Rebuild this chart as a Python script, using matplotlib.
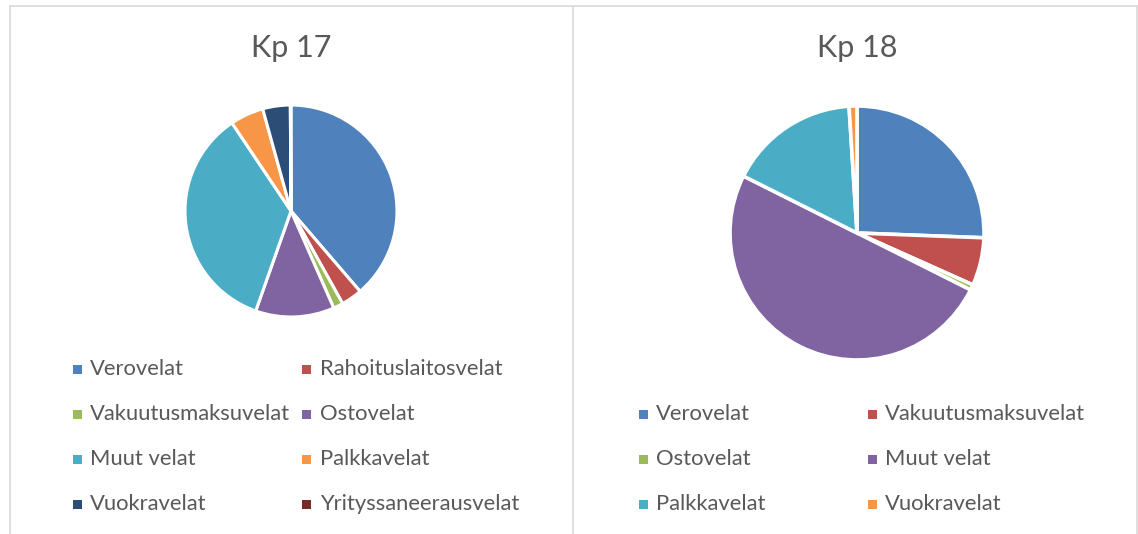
import matplotlib
matplotlib.use("Agg")
import matplotlib.pyplot as plt
from matplotlib.patches import Rectangle
from matplotlib.lines import Line2D

plt.rcParams['font.family'] = ['Lato', 'DejaVu Sans']

W, H = 1138, 534

# Kp 17 data (shares in %)
labels_17 = ['Verovelat', 'Rahoituslaitosvelat', 'Vakuutusmaksuvelat', 'Ostovelat',
             'Muut velat', 'Palkkavelat', 'Vuokravelat', 'Yrityssaneerausvelat']
values_17 = [38.7, 3.2, 1.5, 12.0, 35.2, 5.1, 4.2, 0.1]
colors_17 = ['#4F81BD', '#C0504D', '#9BBB59', '#8064A2', '#4BACC6', '#F79646', '#2C4D75', '#772C2A']

# Kp 18 data (shares in %)
labels_18 = ['Verovelat', 'Vakuutusmaksuvelat', 'Ostovelat', 'Muut velat',
             'Palkkavelat', 'Vuokravelat']
values_18 = [25.6, 6.1, 0.7, 50.0, 16.6, 1.0]
colors_18 = ['#4F81BD', '#C0504D', '#9BBB59', '#8064A2', '#4BACC6', '#F79646']

txt_color = '#595959'
fig = plt.figure(figsize=(W / 100, H / 100), dpi=100)


def px_axes(cx, cy, r):
    return fig.add_axes([(cx - r) / W, 1 - (cy + r) / H, 2 * r / W, 2 * r / H])


def draw_pie(cx, cy, r, vals, cols, lw):
    ax = px_axes(cx, cy, r)
    ax.pie(vals, colors=cols, startangle=90, counterclock=False, radius=1,
           wedgeprops=dict(edgecolor='white', linewidth=lw))
    ax.set_xlim(-1, 1)
    ax.set_ylim(-1, 1)
    ax.set_aspect('equal')
    ax.axis('off')


def draw_legend(labels, cols, x_marks, x_texts, y_rows):
    for i, (lab, col) in enumerate(zip(labels, cols)):
        row, c = divmod(i, 2)
        y = y_rows[row]
        fig.patches.append(Rectangle((x_marks[c] / W, 1 - (y + 4.5) / H), 9 / W, 9 / H,
                                     transform=fig.transFigure, facecolor=col, edgecolor='none'))
        fig.text(x_texts[c] / W, 1 - y / H, lab, fontsize=15.8, color=txt_color,
                 ha='left', va='center')


# panel borders
border = '#D9D9D9'
for xs, ys in [([10, 1137], [6, 6]), ([10, 10], [6, 534]), ([573, 573], [6, 534]),
               ([1137, 1137], [6, 534])]:
    fig.add_artist(Line2D([x / W for x in xs], [1 - y / H for y in ys],
                          transform=fig.transFigure, color=border, linewidth=1.2))

# titles
fig.text(291 / W, 1 - 48 / H, 'Kp 17', fontsize=22, color=txt_color, ha='center', va='center')
fig.text(857 / W, 1 - 48 / H, 'Kp 18', fontsize=22, color=txt_color, ha='center', va='center')

draw_pie(291, 211, 106, values_17, colors_17, 2.2)
draw_pie(857, 233, 127, values_18, colors_18, 2.6)

draw_legend(labels_17, colors_17, [73, 302], [90, 320], [369, 414, 459, 504])
draw_legend(labels_18, colors_18, [639, 868], [656, 885], [414, 459, 504])

fig.savefig('out.png', dpi=100, facecolor='white')
